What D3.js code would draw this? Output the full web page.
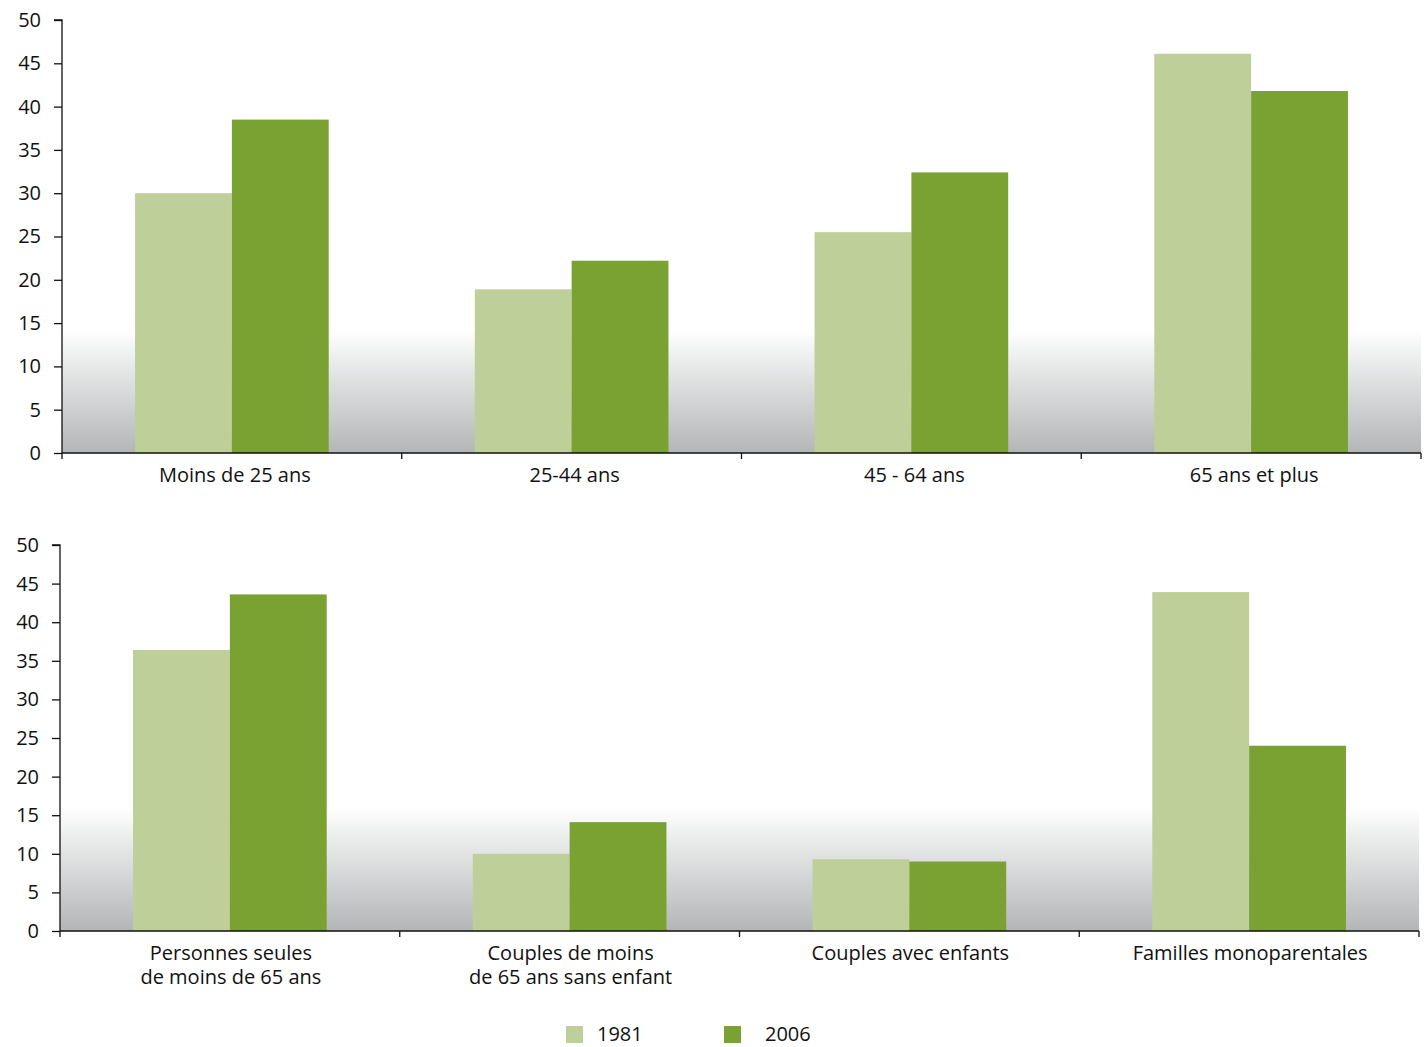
<!DOCTYPE html>
<html>
<head>
<meta charset="utf-8">
<script src="https://cdn.jsdelivr.net/npm/d3@7"></script>
<style>
  body { margin: 0; background: #fff; }
  svg text { font-family: "Open Sans", "Noto Sans", sans-serif; fill: #111; }
</style>
</head>
<body>
<div id="chart"></div>
<script>
// data
var years = ["1981", "2006"];
var colors = ["#bfcf9a", "#79a233"];
var yTicks = [0, 5, 10, 15, 20, 25, 30, 35, 40, 45, 50];

var ageCats = ["Moins de 25 ans", "25-44 ans", "45 - 64 ans", "65 ans et plus"];
var age1981 = [30.0, 18.9, 25.5, 46.1];
var age2006 = [38.5, 22.2, 32.4, 41.8];

var hhCats = [["Personnes seules", "de moins de 65 ans"], ["Couples de moins", "de 65 ans sans enfant"], ["Couples avec enfants"], ["Familles monoparentales"]];
var hh1981 = [36.4, 10.0, 9.3, 43.9];
var hh2006 = [43.6, 14.1, 9.0, 24.0];

var W = 1427, H = 1047;
var svg = d3.select("#chart").append("svg")
    .attr("width", W)
    .attr("height", H);

var defs = svg.append("defs");
var grad = defs.append("linearGradient")
    .attr("id", "floor")
    .attr("x1", 0).attr("y1", 0).attr("x2", 0).attr("y2", 1);
grad.append("stop").attr("offset", "0%").attr("stop-color", "#ffffff");
grad.append("stop").attr("offset", "25%").attr("stop-color", "#ebecec");
grad.append("stop").attr("offset", "100%").attr("stop-color", "#b4b5b7");

function panel(cfg) {
    var g = svg.append("g");
    var x = d3.scaleBand()
        .domain(d3.range(cfg.cats.length))
        .range([cfg.left, cfg.right])
        .paddingInner(0).paddingOuter(0);
    var y = d3.scaleLinear().domain([0, 50]).range([cfg.bottom, cfg.top]);

    var bw = x.bandwidth() * 0.285;

    // grey floor band
    g.append("rect")
        .attr("x", cfg.left)
        .attr("y", cfg.bottom - 123)
        .attr("width", cfg.right - cfg.left)
        .attr("height", 123)
        .attr("fill", "url(#floor)");

    var series = [cfg.v1, cfg.v2];
    series.forEach(function (vals, s) {
        g.selectAll("rect.s" + s)
            .data(vals)
            .enter()
            .append("rect")
            .attr("class", "s" + s)
            .attr("x", function (d, i) { return x(i) + x.bandwidth() / 2 + (s - 1) * bw; })
            .attr("y", function (d) { return y(d); })
            .attr("width", bw)
            .attr("height", function (d) { return y(0) - y(d); })
            .attr("fill", colors[s]);
    });

    // y axis
    var yAxis = d3.axisLeft(y).tickValues(yTicks).tickSize(8);
    var ya = g.append("g")
        .attr("transform", "translate(" + cfg.left + ",0)")
        .call(yAxis);
    ya.select(".domain").attr("stroke", "#111").attr("stroke-width", 1.3)
        .attr("d", "M-8," + cfg.top + "H0V" + cfg.bottom);
    ya.selectAll(".tick line").attr("stroke", "#111").attr("stroke-width", 1.3);
    ya.selectAll(".tick text")
        .style("font-size", "20px")
        .style("font-family", "'Open Sans', sans-serif")
        .attr("fill", "#111")
        .attr("x", -21);

    // x axis line and boundary ticks
    g.append("line")
        .attr("x1", cfg.left).attr("x2", cfg.right)
        .attr("y1", cfg.bottom).attr("y2", cfg.bottom)
        .attr("stroke", "#111").attr("stroke-width", 1.5);
    var bounds = d3.range(cfg.cats.length + 1).map(function (i) {
        return i < cfg.cats.length ? x(i) : cfg.right;
    });
    g.selectAll("line.xt")
        .data(bounds)
        .enter()
        .append("line")
        .attr("class", "xt")
        .attr("x1", function (d) { return d; })
        .attr("x2", function (d) { return d; })
        .attr("y1", cfg.bottom)
        .attr("y2", cfg.bottom + 6)
        .attr("stroke", "#111").attr("stroke-width", 1.3);

    // category labels, one text per line
    cfg.cats.forEach(function (c, i) {
        var lines = Array.isArray(c) ? c : [c];
        lines.forEach(function (l, k) {
            g.append("text")
                .attr("text-anchor", "middle")
                .style("font-size", "20px")
                .attr("x", x(i) + x.bandwidth() / 2 + cfg.labelDx)
                .attr("y", cfg.bottom + 29 + k * 24)
                .text(l);
        });
    });
}

panel({ cats: ageCats, v1: age1981, v2: age2006, left: 62, right: 1421, top: 20, bottom: 453, labelDx: 3 });
panel({ cats: hhCats, v1: hh1981, v2: hh2006, left: 60, right: 1419, top: 545, bottom: 931, labelDx: 1 });

// legend
var legX = [566, 724];
var legTextX = [597, 765];
var leg = svg.append("g");
years.forEach(function (yr, i) {
    leg.append("rect")
        .attr("x", legX[i]).attr("y", 1026)
        .attr("width", 17).attr("height", 17)
        .attr("fill", colors[i]);
    leg.append("text")
        .attr("x", legTextX[i]).attr("y", 1041)
        .style("font-size", "20px")
        .text(yr);
});
</script>
</body>
</html>
